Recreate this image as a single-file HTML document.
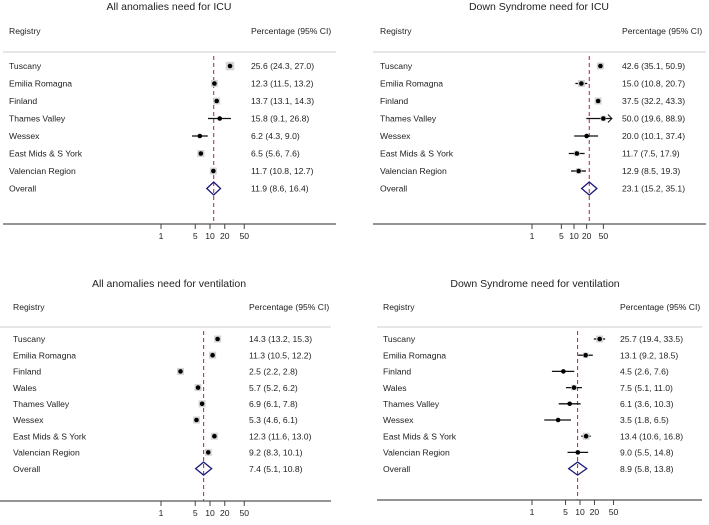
<!DOCTYPE html>
<html><head><meta charset="utf-8"><style>
body{margin:0;background:#fff;width:709px;height:520px;overflow:hidden}
svg text{font-family:"Liberation Sans",sans-serif;fill:#222}
</style></head><body>
<svg id="c" width="709" height="520"></svg>
<script>
const panelTitles=["All anomalies need for ICU","Down Syndrome need for ICU","All anomalies need for ventilation","Down Syndrome need for ventilation"];
const regsICU=["Tuscany","Emilia Romagna","Finland","Thames Valley","Wessex","East Mids & S York","Valencian Region"];
const regsVent=["Tuscany","Emilia Romagna","Finland","Wales","Thames Valley","Wessex","East Mids & S York","Valencian Region"];
const est1=[25.6,12.3,13.7,15.8,6.2,6.5,11.7], lo1=[24.3,11.5,13.1,9.1,4.3,5.6,10.8], hi1=[27.0,13.2,14.3,26.8,9.0,7.6,12.7];
const ov1=[11.9,8.6,16.4];
const est2=[42.6,15.0,37.5,50.0,20.0,11.7,12.9], lo2=[35.1,10.8,32.2,19.6,10.1,7.5,8.5], hi2=[50.9,20.7,43.3,88.9,37.4,17.9,19.3];
const ov2=[23.1,15.2,35.1];
const est3=[14.3,11.3,2.5,5.7,6.9,5.3,12.3,9.2], lo3=[13.2,10.5,2.2,5.2,6.1,4.6,11.6,8.3], hi3=[15.3,12.2,2.8,6.2,7.8,6.1,13.0,10.1];
const ov3=[7.4,5.1,10.8];
const est4=[25.7,13.1,4.5,7.5,6.1,3.5,13.4,9.0], lo4=[19.4,9.2,2.6,5.1,3.6,1.8,10.6,5.5], hi4=[33.5,18.5,7.6,11.0,10.3,6.5,16.8,14.8];
const ov4=[8.9,5.8,13.8];
const tickVals=[1,5,10,20,50];
const svg=document.getElementById('c');
const NS="http://www.w3.org/2000/svg";
function mk(t,a,p){const e=document.createElementNS(NS,t);for(const k in a)e.setAttribute(k,a[k]);(p||svg).appendChild(e);return e;}
function fmt(v){return v.toFixed(1);}
const panels=[
 {t:panelTitles[0],regs:regsICU,e:est1,l:lo1,h:hi1,o:ov1,cx:169,ty:10,hy:34,sy:52,r0:66,dr:17.5,ay:224,x1:161,dec:49,lx:9,cix:251,ax0:3,ax1:336,boxw:[6,5,5,0,0,5,5],cap:1000},
 {t:panelTitles[1],regs:regsICU,e:est2,l:lo2,h:hi2,o:ov2,cx:539,ty:10,hy:34,sy:52,r0:66,dr:17.5,ay:224,x1:532,dec:42,lx:380,cix:622,ax0:373,ax1:706,boxw:[5,5,5,4,0,4,4],cap:80},
 {t:panelTitles[2],regs:regsVent,e:est3,l:lo3,h:hi3,o:ov3,cx:169,ty:287,hy:310,sy:327,r0:339,dr:16.2,ay:501,x1:161,dec:49,lx:13,cix:249,ax0:0,ax1:331,boxw:[5,5,5,5,5,5,5,5],cap:1000},
 {t:panelTitles[3],regs:regsVent,e:est4,l:lo4,h:hi4,o:ov4,cx:535,ty:287,hy:310,sy:327,r0:339,dr:16.2,ay:500,x1:532,dec:48,lx:383,cix:620,ax0:377,ax1:702,boxw:[5,4,0,4,0,0,5,3],cap:1000}
];
panels.forEach((P,pi)=>{
 const g=mk('g',{});
 
 
 const X=v=>P.x1+Math.log10(v)*P.dec;
 const tt=mk('text',{x:P.cx,y:P.ty,'text-anchor':'middle','font-size':'10.5'},g);tt.textContent=P.t;
 
 const h1=mk('text',{x:P.lx,y:P.hy,'font-size':'8.6'},g);h1.textContent='Registry';
 
 const h2=mk('text',{x:P.cix,y:P.hy,'font-size':'8.6'},g);h2.textContent='Percentage (95% CI)';
 
 mk('line',{x1:P.ax0,x2:P.ax1,y1:P.sy,y2:P.sy,stroke:'#ccc','stroke-width':1},g);
 mk('line',{x1:P.ax0,x2:P.ax1,y1:P.ay,y2:P.ay,stroke:'#555','stroke-width':1.2},g);
 const ox=X(P.o[0]);
 const ref=mk('line',{x1:ox,x2:ox,y1:P.sy+4,y2:P.ay,stroke:'#c0304a','stroke-width':1.1,'stroke-dasharray':'4,3'},g);
 
 tickVals.forEach(v=>{
  const x=X(v);
  mk('line',{x1:x,x2:x,y1:P.ay,y2:P.ay+5,stroke:'#444','stroke-width':1},g);
  const t=mk('text',{x:x,y:P.ay+15,'text-anchor':'middle','font-size':'8.6'},g);t.textContent=v;
  
 });
 P.regs.forEach((r,i)=>{
  const y=P.r0+i*P.dr;
  const lt=mk('text',{x:P.lx,y:y+3.2,'font-size':'8.6'},g);lt.textContent=r;
  
  const ct=mk('text',{x:P.cix,y:y+3.2,'font-size':'8.6'},g);ct.textContent=fmt(P.e[i])+' ('+fmt(P.l[i])+', '+fmt(P.h[i])+')';
  
  const hiC=Math.min(P.h[i],P.cap);
  const ci=mk('line',{x1:X(P.l[i]),x2:X(hiC),y1:y,y2:y,stroke:'#111','stroke-width':1.3},g);
  
  if(P.h[i]>P.cap){const ax=X(hiC);mk('path',{d:`M${ax-4},${y-4} L${ax},${y} L${ax-4},${y+4}`,fill:'none',stroke:'#111','stroke-width':1},g);}
  const bw=P.boxw[i]||0, ex=X(P.e[i]);
  if(bw)mk('rect',{x:ex-bw*0.7,y:y-bw*0.7,width:bw*1.4,height:bw*1.4,fill:'#d4d4d4'},g);
  const pt=mk('circle',{cx:ex,cy:y,r:2.3,fill:'#000'},g);
  
 });
 const oy=P.r0+P.regs.length*P.dr;
 const ol=mk('text',{x:P.lx,y:oy+3.2,'font-size':'8.6'},g);ol.textContent='Overall';
 
 const oc=mk('text',{x:P.cix,y:oy+3.2,'font-size':'8.6'},g);oc.textContent=fmt(P.o[0])+' ('+fmt(P.o[1])+', '+fmt(P.o[2])+')';
 
 const d=mk('path',{d:`M${X(P.o[1])},${oy} L${ox},${oy-6.5} L${X(P.o[2])},${oy} L${ox},${oy+6.5} Z`,fill:'none',stroke:'#1a1a7a','stroke-width':1.3},g);
 
});
</script>
</body></html>
